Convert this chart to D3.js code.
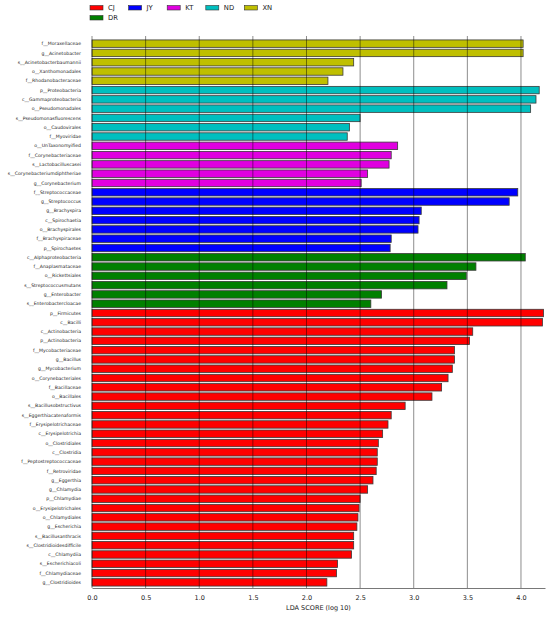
<!DOCTYPE html>
<html>
<head>
<meta charset="utf-8">
<script src="https://cdn.jsdelivr.net/npm/d3@7"></script>
<style>
  body { margin: 0; background: #fff; }
  svg { font-family: "DejaVu Sans", sans-serif; }
</style>
</head>
<body>
<div id="chart"></div>
<script>
// groups in legend order and their colours
const groups = ["CJ", "JY", "KT", "ND", "XN", "DR"];
const groupColors = ["#ff0000", "#0000ff", "#e000e0", "#00bfbf", "#bfbf00", "#008000"];

// features, top to bottom
const features = [
  "f__Moraxellaceae", "g__Acinetobacter", "s__Acinetobacterbaumannii", "o__Xanthomonadales", "f__Rhodanobacteraceae",
  "p__Proteobacteria", "c__Gammaproteobacteria", "o__Pseudomonadales", "s__Pseudomonasfluorescens", "o__Caudovirales", "f__Myoviridae",
  "o__UnTaxonomyified", "f__Corynebacteriaceae", "s__Lactobacilluscasei", "s__Corynebacteriumdiphtheriae", "g__Corynebacterium",
  "f__Streptococcaceae", "g__Streptococcus", "g__Brachyspira", "c__Spirochaetia", "o__Brachyspirales", "f__Brachyspiraceae", "p__Spirochaetes",
  "c__Alphaproteobacteria", "f__Anaplasmataceae", "o__Rickettsiales", "s__Streptococcusmutans", "g__Enterobacter", "s__Enterobactercloacae",
  "p__Firmicutes", "c__Bacilli", "c__Actinobacteria", "p__Actinobacteria", "f__Mycobacteriaceae", "g__Bacillus", "g__Mycobacterium",
  "o__Corynebacteriales", "f__Bacillaceae", "o__Bacillales", "s__Bacillusobstructivus", "s__Eggerthiacatenaformis", "f__Erysipelotrichaceae",
  "c__Erysipelotrichia", "o__Clostridiales", "c__Clostridia", "f__Peptostreptococcaceae", "f__Retroviridae", "g__Eggerthia", "g__Chlamydia",
  "p__Chlamydiae", "o__Erysipelotrichales", "o__Chlamydiales", "g__Escherichia", "s__Bacillusanthracis", "s__Clostridioidesdifficile",
  "c__Chlamydiia", "s__Escherichiacoli", "f__Chlamydiaceae", "g__Clostridioides"
];

const featureGroups = [
  "XN", "XN", "XN", "XN", "XN",
  "ND", "ND", "ND", "ND", "ND", "ND",
  "KT", "KT", "KT", "KT", "KT",
  "JY", "JY", "JY", "JY", "JY", "JY", "JY",
  "DR", "DR", "DR", "DR", "DR", "DR",
  "CJ", "CJ", "CJ", "CJ", "CJ", "CJ", "CJ", "CJ", "CJ", "CJ",
  "CJ", "CJ", "CJ", "CJ", "CJ", "CJ", "CJ", "CJ", "CJ", "CJ",
  "CJ", "CJ", "CJ", "CJ", "CJ", "CJ", "CJ", "CJ", "CJ", "CJ"
];

const ldaScores = [
  4.02, 4.02, 2.44, 2.34, 2.20,
  4.17, 4.14, 4.09, 2.50, 2.40, 2.38,
  2.85, 2.79, 2.77, 2.57, 2.51,
  3.97, 3.89, 3.07, 3.05, 3.04, 2.79, 2.78,
  4.04, 3.58, 3.49, 3.31, 2.70, 2.60,
  4.21, 4.20, 3.55, 3.52, 3.38, 3.38, 3.36, 3.32, 3.26, 3.17,
  2.92, 2.79, 2.76, 2.71, 2.67, 2.66, 2.66, 2.65, 2.62, 2.57,
  2.50, 2.49, 2.48, 2.47, 2.44, 2.44, 2.42, 2.29, 2.28, 2.19
];

const xTicks = [0, 0.5, 1.0, 1.5, 2.0, 2.5, 3.0, 3.5, 4.0];

const width = 550, height = 617;
const plotLeft = 92, plotRight = 545, plotTop = 36, plotBottom = 588;

const svg = d3.select("#chart").append("svg")
  .attr("width", width)
  .attr("height", height);

const x = d3.scaleLinear().domain([0, 4.224]).range([plotLeft, plotRight]);
const y = d3.scaleBand().domain(features).range([plotTop + 3, plotBottom - 1])
  .paddingInner(0.2).paddingOuter(0.1);
const color = d3.scaleOrdinal().domain(groups).range(groupColors);

const rows = features.map((f, i) => ({ name: f, group: featureGroups[i], value: ldaScores[i] }));

// bars
svg.append("g").selectAll("rect")
  .data(rows)
  .enter()
  .append("rect")
  .attr("x", x(0))
  .attr("y", d => y(d.name))
  .attr("width", d => x(d.value) - x(0))
  .attr("height", y.bandwidth())
  .attr("fill", d => color(d.group))
  .attr("stroke", "#3a3a3a")
  .attr("stroke-width", 0.8);

// vertical grid lines drawn over bars
svg.append("g").selectAll("line")
  .data(xTicks)
  .enter()
  .append("line")
  .attr("x1", d => x(d)).attr("x2", d => x(d))
  .attr("y1", plotTop).attr("y2", plotBottom)
  .attr("stroke", "#000")
  .attr("stroke-opacity", 0.45)
  .attr("stroke-width", 1);

// feature labels
svg.append("g").selectAll("text")
  .data(rows)
  .enter()
  .append("text")
  .attr("x", plotLeft - 11)
  .attr("y", d => y(d.name) + y.bandwidth() / 2)
  .attr("dy", "0.35em")
  .attr("text-anchor", "end")
  .attr("font-size", 4.6)
  .attr("fill", "#222")
  .text(d => d.name);

// x axis
const xAxis = svg.append("g")
  .attr("transform", `translate(0,${plotBottom})`)
  .call(d3.axisBottom(x).tickValues(xTicks).tickFormat(d3.format(".1f")).tickSize(0).tickPadding(7));
xAxis.select(".domain").attr("stroke", "#555").attr("stroke-width", 0.8);
xAxis.selectAll("text").attr("font-size", 6.5).attr("fill", "#222")
  .attr("font-family", "DejaVu Sans, sans-serif");

svg.append("text")
  .attr("x", (plotLeft + plotRight) / 2)
  .attr("y", 610)
  .attr("text-anchor", "middle")
  .attr("font-size", 6.5)
  .attr("fill", "#222")
  .text("LDA SCORE (log 10)");

// legend
const legend = svg.append("g").selectAll("g")
  .data(groups)
  .enter()
  .append("g")
  .attr("transform", (d, i) => `translate(${90 + (i % 5) * 38.6},${i < 5 ? 5.5 : 15.5})`);

legend.append("rect")
  .attr("width", 13)
  .attr("height", 4.5)
  .attr("fill", d => color(d))
  .attr("stroke", "#333")
  .attr("stroke-width", 0.6);

legend.append("text")
  .attr("x", 18)
  .attr("y", 2.3)
  .attr("dy", "0.35em")
  .attr("font-size", 6.8)
  .attr("fill", "#222")
  .text(d => d);
</script>
</body>
</html>
